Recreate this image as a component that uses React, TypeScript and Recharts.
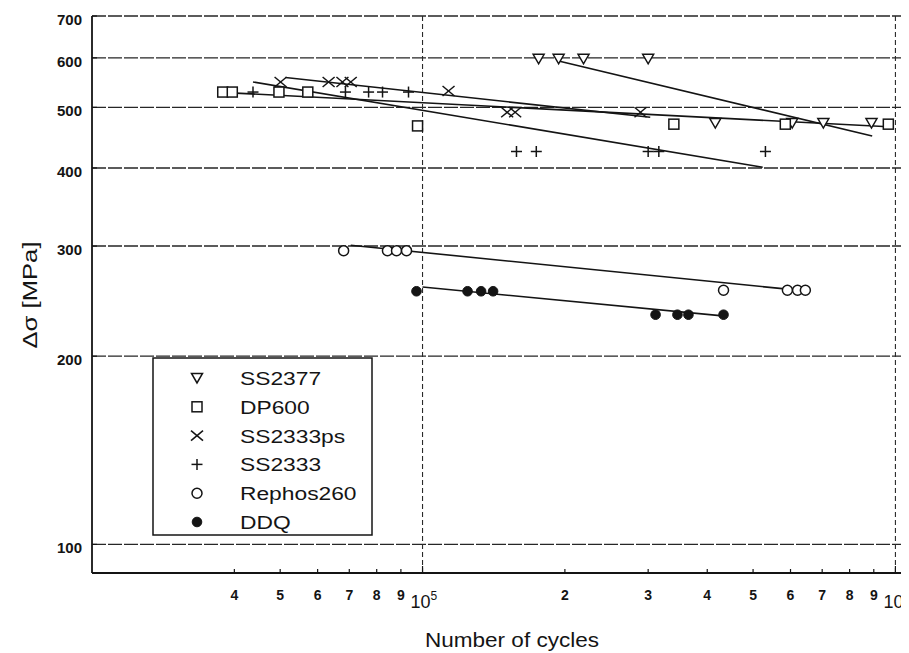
import React from 'react';
import { ScatterChart, Scatter, XAxis, YAxis, CartesianGrid, ReferenceLine, Label } from 'recharts';

const FONT = '"Liberation Sans", Arial, Helvetica, sans-serif';
const INK = '#141414';

// test results: number of cycles / stress range [MPa]
const ss2377Cycles = [1.76e5, 1.94e5, 2.19e5, 3.0e5, 4.16e5, 6.05e5, 7.04e5, 8.9e5];
const ss2377Stress = [598, 598, 598, 598, 472, 472, 472, 472];

const dp600Cycles = [3.78e4, 3.96e4, 4.97e4, 5.72e4, 9.76e4, 3.4e5, 5.85e5, 9.66e5];
const dp600Stress = [529, 529, 529, 529, 467, 470, 470, 470];

const ss2333psCycles = [5.01e4, 6.33e4, 6.77e4, 7.05e4, 1.135e5, 1.51e5, 1.57e5, 2.89e5];
const ss2333psStress = [549, 549, 549, 549, 531, 491, 491, 491];

const ss2333Cycles = [4.38e4, 6.87e4, 7.69e4, 8.23e4, 9.34e4, 1.58e5, 1.74e5, 3.0e5, 3.16e5, 5.31e5];
const ss2333Stress = [529, 529, 529, 529, 529, 425, 425, 425, 425, 425];

const rephosCycles = [6.81e4, 8.43e4, 8.81e4, 9.25e4, 4.33e5, 5.91e5, 6.21e5, 6.45e5];
const rephosStress = [295, 295, 295, 295, 255, 255, 255, 255];

const ddqCycles = [9.71e4, 1.245e5, 1.33e5, 1.41e5, 3.11e5, 3.46e5, 3.65e5, 4.33e5];
const ddqStress = [254, 254, 254, 254, 233, 233, 233, 233];

// fitted lines (end points)
const ss2377FitCycles = [1.94e5, 8.93e5];
const ss2377FitStress = [593, 450];
const dp600FitCycles = [4.03e4, 9.9e5];
const dp600FitStress = [527, 465];
const ss2333psFitCycles = [5.13e4, 3.03e5];
const ss2333psFitStress = [558, 482];
const ss2333FitCycles = [4.38e4, 5.24e5];
const ss2333FitStress = [549, 401];
const rephosFitCycles = [7.05e4, 5.91e5];
const rephosFitStress = [301, 256];
const ddqFitCycles = [1.0e5, 4.31e5];
const ddqFitStress = [258, 232];

const xTicks = [4e4, 5e4, 6e4, 7e4, 8e4, 9e4, 1e5, 2e5, 3e5, 4e5, 5e5, 6e5, 7e5, 8e5, 9e5, 1e6];
const yTicks = [100, 200, 300, 400, 500, 600, 700];

const seriesNames = ['SS2377', 'DP600', 'SS2333ps', 'SS2333', 'Rephos260', 'DDQ'];

const toPoints = (xs: number[], ys: number[]) => xs.map((x, i) => ({ x, y: ys[i] }));

// marker glyphs
const TriangleDown = ({ cx, cy }: any) => (
  <polygon points={`${cx - 5.5},${cy - 4.5} ${cx + 5.5},${cy - 4.5} ${cx},${cy + 5}`} fill="#fff" stroke={INK} strokeWidth={1.5} />
);
const Square = ({ cx, cy }: any) => (
  <rect x={cx - 5} y={cy - 5} width={10} height={10} fill="#fff" stroke={INK} strokeWidth={1.5} />
);
const Cross = ({ cx, cy }: any) => (
  <g stroke={INK} strokeWidth={1.5}>
    <line x1={cx - 6} y1={cy - 5} x2={cx + 6} y2={cy + 5} />
    <line x1={cx - 6} y1={cy + 5} x2={cx + 6} y2={cy - 5} />
  </g>
);
const Plus = ({ cx, cy }: any) => (
  <g stroke={INK} strokeWidth={1.5}>
    <line x1={cx - 5.5} y1={cy} x2={cx + 5.5} y2={cy} />
    <line x1={cx} y1={cy - 5.5} x2={cx} y2={cy + 5.5} />
  </g>
);
const OpenCircle = ({ cx, cy }: any) => <circle cx={cx} cy={cy} r={5} fill="#fff" stroke={INK} strokeWidth={1.5} />;
const FilledCircle = ({ cx, cy }: any) => <circle cx={cx} cy={cy} r={4.8} fill={INK} stroke={INK} strokeWidth={1} />;

const markers = [TriangleDown, Square, Cross, Plus, OpenCircle, FilledCircle];

const CycleTick = (props: any) => {
  const { x, y, payload } = props;
  const v = payload.value;
  const exp = Math.floor(Math.log10(v) + 1e-9);
  const digit = Math.round(v / Math.pow(10, exp));
  const decade = digit === 1;
  return (
    <g>
      <line x1={x} x2={x} y1={y} y2={y - (decade ? 7 : 4)} stroke={INK} strokeWidth={1.2} />
      {decade ? (
        <text x={x - 12} y={y + 35} fontSize={18} fill={INK} fontFamily={FONT}>
          10
          <tspan dy={-8} fontSize={12}>{exp}</tspan>
        </text>
      ) : (
        <text x={x} y={y + 27} textAnchor="middle" fontSize={14} fontWeight="bold" fill={INK} fontFamily={FONT}>
          {digit}
        </text>
      )}
    </g>
  );
};

const StressTick = (props: any) => {
  const { x, y, payload } = props;
  return (
    <g>
      <line x1={x} x2={x + 5} y1={y} y2={y} stroke={INK} strokeWidth={1.2} />
      <text x={x - 10} y={y + 9} textAnchor="end" fontSize={15} fontWeight="bold" fill={INK} fontFamily={FONT}>
        {payload.value}
      </text>
    </g>
  );
};

const LegendBox = () => (
  <svg width={222} height={180} style={{ position: 'absolute', left: 144, top: 349 }}>
    <rect x={1} y={1} width={219} height={177} fill="#fff" stroke={INK} strokeWidth={1.5} />
    {seriesNames.map((name, i) => {
      const Marker = markers[i];
      const cy = 21 + i * 28.8;
      return (
        <g key={name}>
          <Marker cx={45} cy={cy} />
          <text
            transform={`translate(88, ${cy + 7}) scale(1.2, 1)`}
            fontSize={19}
            fill={INK}
            fontFamily={FONT}
          >
            {name}
          </text>
        </g>
      );
    })}
  </svg>
);

export default function App() {
  const points = [
    toPoints(ss2377Cycles, ss2377Stress),
    toPoints(dp600Cycles, dp600Stress),
    toPoints(ss2333psCycles, ss2333psStress),
    toPoints(ss2333Cycles, ss2333Stress),
    toPoints(rephosCycles, rephosStress),
    toPoints(ddqCycles, ddqStress),
  ];
  const fits = [
    toPoints(ss2377FitCycles, ss2377FitStress),
    toPoints(dp600FitCycles, dp600FitStress),
    toPoints(ss2333psFitCycles, ss2333psFitStress),
    toPoints(ss2333FitCycles, ss2333FitStress),
    toPoints(rephosFitCycles, rephosFitStress),
    toPoints(ddqFitCycles, ddqFitStress),
  ];

  return (
    <div style={{ position: 'relative', width: 901, height: 645, overflow: 'hidden', background: '#fff' }}>
      <ScatterChart width={910} height={645} margin={{ top: 8, right: 3, bottom: 0, left: 0 }}>
        <CartesianGrid vertical={false} stroke="#262626" strokeWidth={1.4} strokeDasharray="14 2" />
        <ReferenceLine x={1e5} stroke="#2a2a2a" strokeWidth={1.1} strokeDasharray="5 3" />
        <ReferenceLine x={1e6} stroke="#2a2a2a" strokeWidth={1.1} strokeDasharray="5 3" />
        <XAxis
          dataKey="x"
          type="number"
          scale="log"
          domain={[2e4, 1.1e6]}
          allowDataOverflow
          ticks={xTicks}
          interval={0}
          height={80}
          tickSize={0}
          tickMargin={0}
          tickLine={false}
          axisLine={{ stroke: INK, strokeWidth: 1.8 }}
          tick={<CycleTick />}
        >
          <Label
            content={() => (
              <text x={504} y={639} textAnchor="middle" fontSize={20} fill={INK} fontFamily={FONT} textLength={174} lengthAdjust="spacingAndGlyphs">
                Number of cycles
              </text>
            )}
          />
        </XAxis>
        <YAxis
          dataKey="y"
          type="number"
          scale="log"
          domain={[90, 700]}
          allowDataOverflow
          ticks={yTicks}
          interval={0}
          width={84}
          tickSize={0}
          tickMargin={0}
          tickLine={false}
          axisLine={{ stroke: INK, strokeWidth: 1.8 }}
          tick={<StressTick />}
        >
          <Label
            content={() => (
              <text
                transform="translate(29, 287) rotate(-90)"
                textAnchor="middle"
                fontSize={21}
                fill={INK}
                fontFamily={FONT}
                textLength={107}
                lengthAdjust="spacingAndGlyphs"
              >
                Δσ [MPa]
              </text>
            )}
          />
        </YAxis>
        {fits.map((d, i) => (
          <Scatter
            key={`fit-${i}`}
            data={d}
            line={{ stroke: INK, strokeWidth: 1.6 }}
            shape={() => <g />}
            isAnimationActive={false}
          />
        ))}
        {points.map((d, i) => {
          const Marker = markers[i];
          return (
            <Scatter
              key={seriesNames[i]}
              name={seriesNames[i]}
              data={d}
              shape={(p: any) => <Marker cx={p.cx} cy={p.cy} />}
              isAnimationActive={false}
            />
          );
        })}
      </ScatterChart>
      <LegendBox />
    </div>
  );
}
